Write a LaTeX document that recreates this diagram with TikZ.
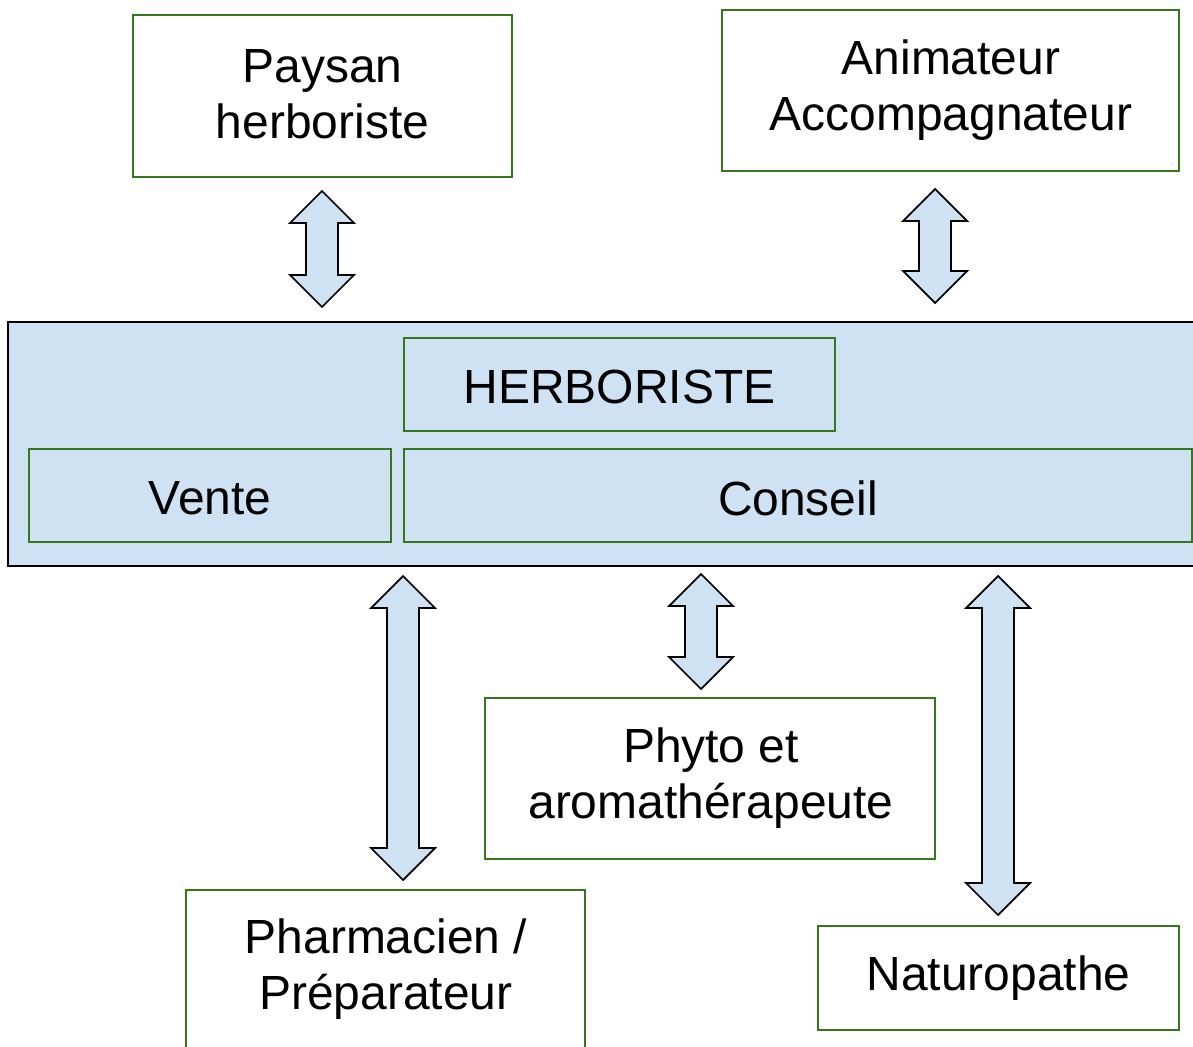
\documentclass[tikz,border=0pt]{standalone}
\usepackage{fontspec}
\setmainfont{Liberation Sans}
\definecolor{boxblue}{HTML}{CFE2F3}
\definecolor{boxgreen}{HTML}{38761D}
\tikzset{
  gbox/.style={draw=boxgreen, line width=0.85pt, inner sep=0pt, align=center},
  bluebox/.style={gbox, fill=boxblue},
  mainbox/.style={draw=black, line width=1.2pt, fill=boxblue, inner sep=0pt},
  txt/.style={align=center, inner sep=0pt, font=\fontsize{27.3}{31.6}\selectfont},
  arrowshape/.style={draw=black, line width=1pt, fill=boxblue, line join=miter}
}
\newcommand{\vdarrow}[3]{%
  \draw[arrowshape] (#1,#2) -- (#1+32,#2+32) -- (#1+16,#2+32) -- (#1+16,#3-32)
    -- (#1+32,#3-32) -- (#1,#3) -- (#1-32,#3-32) -- (#1-16,#3-32)
    -- (#1-16,#2+32) -- (#1-32,#2+32) -- cycle;}
\begin{document}
\begin{tikzpicture}[x=0.02cm, y=-0.02cm]
\useasboundingbox (0,0) rectangle (1193,1047);
\clip (0,0) rectangle (1193,1047);
\fill[white] (0,0) rectangle (1193,1047);

\node[gbox, minimum width=7.58cm, minimum height=3.24cm] (paysan) at (322.5,96) {};
\node[txt] (paysant) at (322.5,94) {Paysan\\herboriste};
\node[gbox, minimum width=9.14cm, minimum height=3.22cm] (anim) at (950.5,90.5) {};
\node[txt] (animt) at (951,90) {Animateur\\Accompagnateur};

\node[mainbox, minimum width=24.04cm, minimum height=4.88cm] (main) at (609,444) {};
\node[bluebox, minimum width=8.62cm, minimum height=1.86cm] (herb) at (619.5,384.5) {};
\node[txt] (herbt) at (619.5,387) {HERBORISTE};
\node[bluebox, minimum width=7.24cm, minimum height=1.86cm] (vente) at (210,495.5) {};
\node[txt] (ventet) at (210,498) {Vente};
\node[bluebox, minimum width=15.76cm, minimum height=1.86cm] (conseil) at (798,495.5) {};
\node[txt] (conseilt) at (798,498) {Conseil};

\node[gbox, minimum width=9.0cm, minimum height=3.22cm] (phyto) at (710,778.5) {};
\node[txt] (phytot) at (711,778) {Phyto et\\aromathérapeute};
\node[gbox, minimum width=7.98cm, minimum height=3.4cm] (pharm) at (385.5,975) {};
\node[txt] (pharmt) at (386,969) {Pharmacien /\\Préparateur};
\node[gbox, minimum width=7.22cm, minimum height=2.08cm] (natu) at (998.5,978) {};
\node[txt] (natut) at (998.5,978) {Naturopathe};

\vdarrow{322}{191}{307}
\vdarrow{935}{189}{303}
\vdarrow{403}{576}{880}
\vdarrow{701}{574}{689}
\vdarrow{998}{576}{915}
\end{tikzpicture}
\end{document}
